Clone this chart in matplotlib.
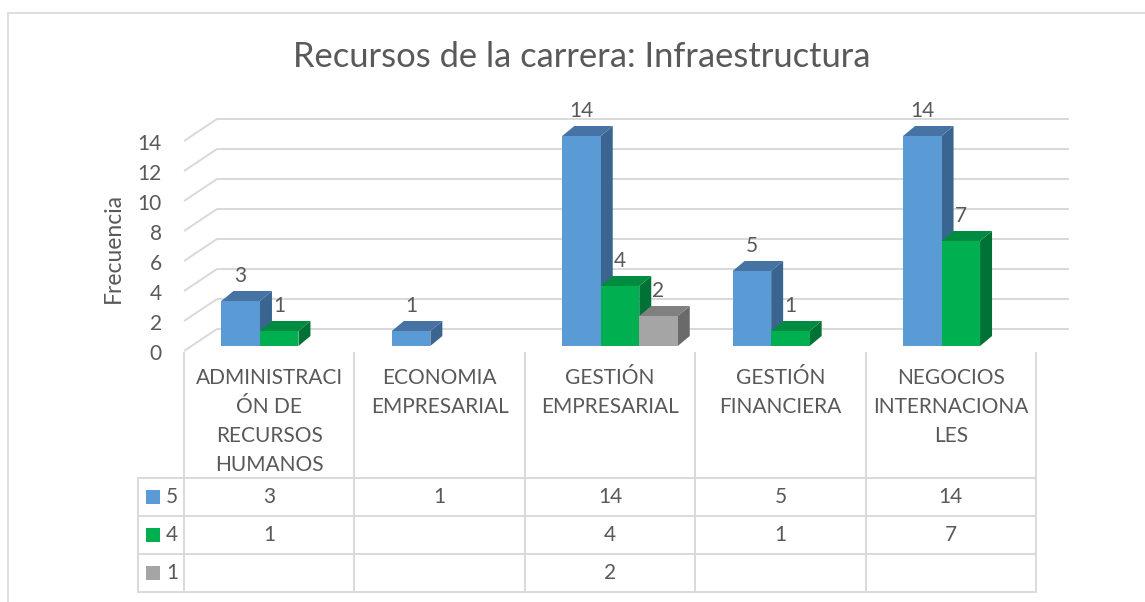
import matplotlib
matplotlib.use("Agg")
import matplotlib.pyplot as plt
from matplotlib.patches import Polygon, Rectangle
from matplotlib.lines import Line2D
import matplotlib.transforms as mtrans

# data
categories = ["ADMINISTRACI\nÓN DE\nRECURSOS\nHUMANOS", "ECONOMIA\nEMPRESARIAL",
              "GESTIÓN\nEMPRESARIAL", "GESTIÓN\nFINANCIERA", "NEGOCIOS\nINTERNACIONA\nLES"]
series_names = ["5", "4", "1"]
values_5 = [3, 1, 14, 5, 14]
values_4 = [1, None, 4, 1, 7]
values_1 = [None, None, 2, None, None]
yticks = [0, 2, 4, 6, 8, 10, 12, 14]

series = [values_5, values_4, values_1]
# front, top, side colours per series
face_colors = [("#5B9BD5", "#4673A3", "#3A6590"),
               ("#00B050", "#008C40", "#007235"),
               ("#A5A5A5", "#808080", "#6A6A6A")]
txt = "#595959"
grid = "#D9D9D9"
plt.rcParams["font.family"] = ["Lato", "DejaVu Sans"]

W, H = 1145, 602
fig = plt.figure(figsize=(W / 100, H / 100), dpi=100)

def fx(px):
    return px / W

def fy(py):
    return 1 - py / H

# chart frame (right and bottom edges fall outside the picture)
fig.add_artist(Rectangle((fx(8), fy(615)), fx(1160) - fx(8), fy(13) - fy(615),
                         transform=fig.transFigure, fill=False, ec=grid, lw=1.2))

x0_px, x1_px, y0_px, ytop_px = 184, 1036, 351, 96
ax = fig.add_axes([fx(x0_px), fy(y0_px), fx(x1_px) - fx(x0_px), fy(ytop_px) - fy(y0_px)])
ax.set_xlim(0, len(categories))
ax.set_ylim(0, 17)
ax.axis("off")
ux = (x1_px - x0_px) / len(categories)
uy = (y0_px - ytop_px) / 17

def dxu(px):
    return px / ux

def dyu(px):
    return px / uy

# back wall gridlines + side wall diagonals
DX, DY = dxu(33), dyu(22)
for v in yticks:
    ax.plot([0, DX, len(categories) + DX], [v, v + DY, v + DY], color=grid, lw=1.4,
            clip_on=False, zorder=1, solid_capstyle="butt")
    ax.text(dxu(-22), v - dyu(3), str(v), ha="right", va="center", fontsize=15, color=txt)

# 3D-looking bars
w = dxu(38.5)
off = dxu(10)
base = dyu(5)
bx, by = dxu(12), dyu(10)
for j in range(len(categories)):
    for i, vals in enumerate(series):
        v = vals[j]
        if not v:
            continue
        left = j + 0.5 + off + (i - 1) * w - w / 2
        top = base + v
        front, topc, side = face_colors[i]
        z = 2 + 2 * i
        ax.add_patch(Polygon([(left + w, base), (left + w + bx, base + by),
                              (left + w + bx, top + by), (left + w, top)],
                             closed=True, fc=side, ec="none", zorder=z, clip_on=False))
        ax.add_patch(Polygon([(left, top), (left + bx, top + by),
                              (left + w + bx, top + by), (left + w, top)],
                             closed=True, fc=topc, ec="none", zorder=z, clip_on=False))
        ax.bar(left, v, width=w, bottom=base, align="edge", color=front,
               zorder=z + 1, clip_on=False)
        ax.text(left + w / 2, top + dyu(25), str(v), ha="center", va="center",
                fontsize=15, color=txt, zorder=10)

# axis title
fig.text(fx(113), fy(248), "Frecuencia", rotation=90, ha="center", va="center",
         fontsize=16.5, color=txt)

# chart title
fig.text(fx(582), fy(57), "Recursos de la carrera: Infraestructura", ha="center",
         va="center", fontsize=24.8, color=txt)

# data table
bt = mtrans.blended_transform_factory(ax.transData, fig.transFigure)
rows_y = [478, 516, 554, 592]
for py in rows_y:
    fig.add_artist(Line2D([fx(138), fx(x1_px)], [fy(py), fy(py)],
                          transform=fig.transFigure, color=grid, lw=1.4))
fig.add_artist(Line2D([fx(138), fx(138)], [fy(478), fy(592)],
                      transform=fig.transFigure, color=grid, lw=1.4))
for k in range(len(categories) + 1):
    fig.add_artist(Line2D([k, k], [fy(353), fy(592)], transform=bt, color=grid, lw=1.4))

for j, cat in enumerate(categories):
    for n, line in enumerate(cat.split("\n")):
        fig.text(j + 0.5, fy(378 + 29 * n), line, transform=bt,
                 fontsize=15, color=txt, ha="center", va="center")

for i, (name, vals) in enumerate(zip(series_names, series)):
    yc = (rows_y[i] + rows_y[i + 1]) / 2
    fig.add_artist(Rectangle((fx(146), fy(yc + 7)), fx(14), 14 / H,
                             transform=fig.transFigure, fc=face_colors[i][0], ec="none"))
    fig.text(fx(166), fy(yc), name, ha="left", va="center", fontsize=15, color=txt)
    for j, v in enumerate(vals):
        if v:
            fig.text(j + 0.5, fy(yc), str(v), transform=bt, ha="center", va="center",
                     fontsize=15, color=txt)

fig.savefig("out.png", dpi=100)
